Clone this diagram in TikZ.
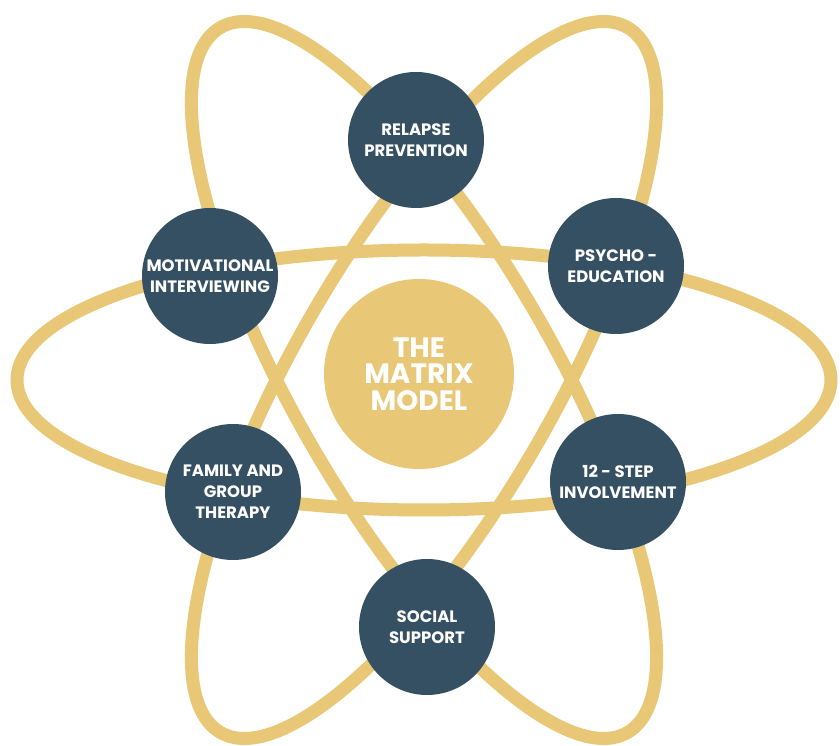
\documentclass[tikz,border=0pt]{standalone}
\usepackage{fontspec}
\setmainfont{Poppins}
\definecolor{gold}{RGB}{232,199,118}
\definecolor{navy}{RGB}{52,80,98}
\tikzset{
  orbit/.style={draw=gold, line width=13pt},
  disc/.style={circle, fill=navy, minimum size=136pt, inner sep=0pt},
  lbl/.style={text=white, align=center, inner sep=0pt, font=\bfseries\fontsize{16.5}{21}\selectfont},
  core/.style={circle, fill=gold, minimum size=190pt, inner sep=0pt, text=white, align=center, font=\bfseries\fontsize{28}{26.5}\selectfont}
}
\begin{document}
\begin{tikzpicture}[x=1pt,y=1pt]
\useasboundingbox (0,0) rectangle (840,746);
\coordinate (ec) at (424,366);
\draw[orbit] (ec) ellipse [x radius=407, y radius=130];
\draw[orbit, shift={(ec)}, rotate=60] (0,0) ellipse [x radius=407, y radius=130];
\draw[orbit, shift={(ec)}, rotate=-60] (0,0) ellipse [x radius=407, y radius=130];
\node[core] (matrix) at (419,372) {THE\\MATRIX\\MODEL};
\node[disc, label={[lbl]center:{RELAPSE\\PREVENTION}}] (relapse) at (416,606) {};
\node[disc, label={[lbl]center:{PSYCHO -\\EDUCATION}}] (psycho) at (616,480) {};
\node[disc, label={[lbl]center:{MOTIVATIONAL\\INTERVIEWING}}] (motiv) at (210,470) {};
\node[disc, label={[lbl]center:{FAMILY AND\\GROUP\\THERAPY}}] (family) at (233,254) {};
\node[disc, label={[lbl]center:{12 - STEP\\INVOLVEMENT}}] (step12) at (618,264) {};
\node[disc, label={[lbl]center:{SOCIAL\\SUPPORT}}] (social) at (427,119) {};
\end{tikzpicture}
\end{document}
